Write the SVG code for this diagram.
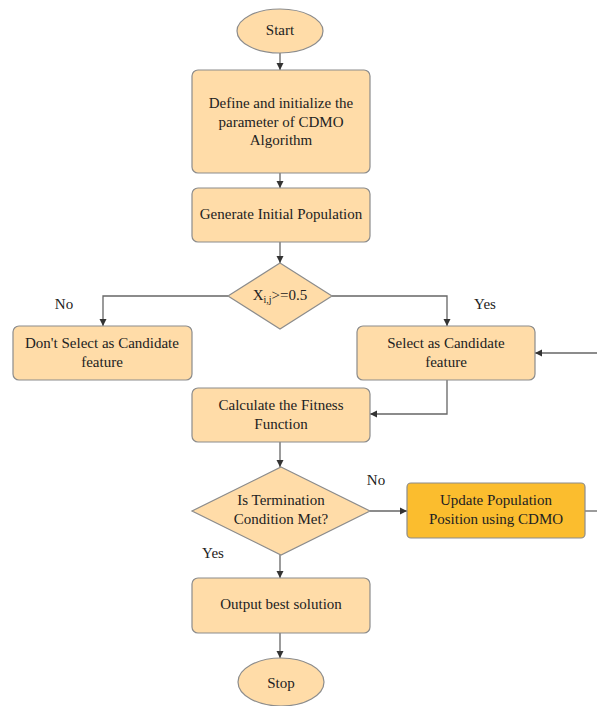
<svg xmlns="http://www.w3.org/2000/svg" width="597" height="706" viewBox="0 0 597 706">
<defs>
<marker id="ah" markerWidth="8" markerHeight="8" refX="7" refY="4" orient="auto" markerUnits="userSpaceOnUse">
<path d="M0,0.5 L7,4 L0,7.5 Z" fill="#333"/>
</marker>
<style>
.n{fill:#FFDCA8;stroke:#8c8c8c;stroke-width:1.2}
.u{fill:#FBBD2E;stroke:#8c8c8c;stroke-width:1.2}
.t{font-size:15px;fill:#222;text-anchor:middle;dominant-baseline:central}
.l{fill:none;stroke:#666;stroke-width:1.3;marker-end:url(#ah)}
.p{fill:none;stroke:#666;stroke-width:1.3}
</style>
</defs>
<rect width="597" height="706" fill="#fff"/>
<g id="connectors">
<path class="l" d="M280,53 V70"/>
<path class="l" d="M280,173 V188"/>
<path class="l" d="M280,242 V263"/>
<path class="l" d="M228,296 H103 V326"/>
<path class="l" d="M332,296 H447 V326"/>
<path class="l" d="M447,380 V414 H370"/>
<path class="l" d="M280,442 V467"/>
<path class="l" d="M370,511 H407"/>
<path class="p" d="M585,511 H610"/>
<path class="l" d="M610,353 H535"/>
<path class="l" d="M280,555 V578"/>
<path class="l" d="M280,633 V658"/>
</g>
<g font-family="'Liberation Serif', 'Times New Roman', 'DejaVu Serif', serif">
<g id="start"><ellipse class="n" cx="280" cy="31" rx="43" ry="22"/><text class="t" x="280" y="30">Start</text></g>
<g id="define"><rect class="n" x="192" y="70" width="178" height="103" rx="6"/>
<text class="t" x="281" y="103">Define and initialize the</text>
<text class="t" x="281" y="122">parameter of CDMO</text>
<text class="t" x="281" y="140">Algorithm</text></g>
<g id="generate"><rect class="n" x="192" y="188" width="178" height="54" rx="6"/><text class="t" x="281" y="214">Generate Initial Population</text></g>
<g id="decision1"><polygon class="n" points="280,263 332,296 280,329 228,296"/>
<text class="t" x="280" y="295">X<tspan font-size="10" dy="4">i,j</tspan><tspan dy="-4">&gt;=0.5</tspan></text></g>
<g id="noselect"><rect class="n" x="13" y="326" width="179" height="54" rx="6"/>
<text class="t" x="102" y="343">Don't Select as Candidate</text>
<text class="t" x="102" y="362">feature</text></g>
<g id="select"><rect class="n" x="357" y="326" width="178" height="54" rx="6"/>
<text class="t" x="446" y="343">Select as Candidate</text>
<text class="t" x="446" y="362">feature</text></g>
<g id="fitness"><rect class="n" x="192" y="388" width="178" height="54" rx="6"/>
<text class="t" x="281" y="405">Calculate the Fitness</text>
<text class="t" x="281" y="424">Function</text></g>
<g id="decision2"><polygon class="n" points="281,467 370,511 281,555 192,511"/>
<text class="t" x="281" y="500">Is Termination</text>
<text class="t" x="281" y="519">Condition Met?</text></g>
<g id="update"><rect class="u" x="407" y="483" width="178" height="55" rx="4"/>
<text class="t" x="496" y="500">Update Population</text>
<text class="t" x="496" y="519">Position using CDMO</text></g>
<g id="output"><rect class="n" x="192" y="578" width="178" height="55" rx="6"/><text class="t" x="281" y="604">Output best solution</text></g>
<g id="stop"><ellipse class="n" cx="281" cy="682" rx="43" ry="24"/><text class="t" x="281" y="683">Stop</text></g>
<g id="labels">
<text class="t" x="64" y="304">No</text>
<text class="t" x="485" y="304">Yes</text>
<text class="t" x="376" y="480">No</text>
<text class="t" x="213" y="553">Yes</text>
</g>
</g>
</svg>
